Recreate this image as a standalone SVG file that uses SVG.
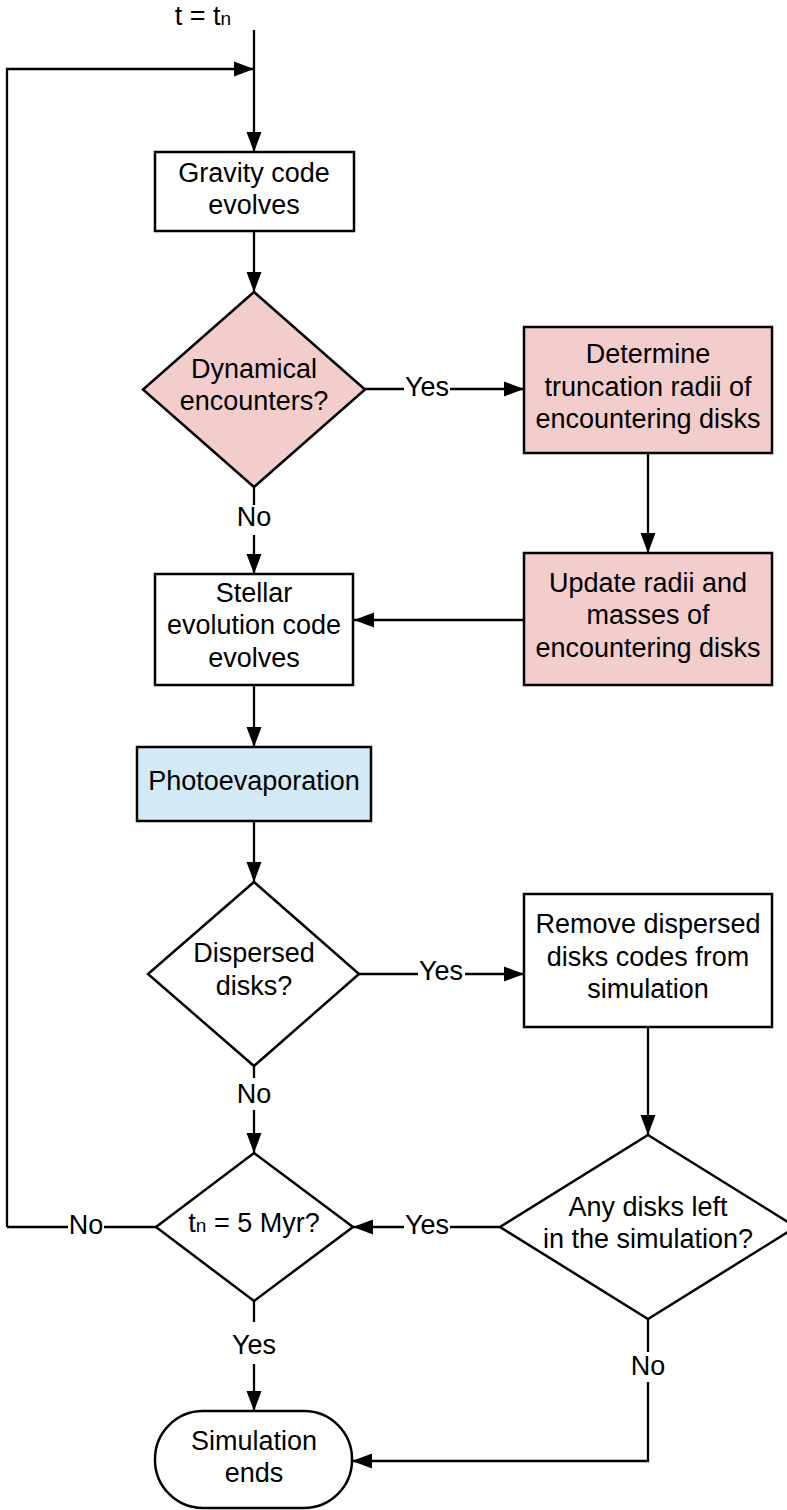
<svg xmlns="http://www.w3.org/2000/svg" width="787" height="1510" viewBox="0 0 787 1510">
<style>
text{font-family:"Liberation Sans",Arial,sans-serif;font-size:27px;fill:#000;text-anchor:middle}
.n{stroke:#000;stroke-width:2.5}
.w{fill:#fff}
.p{fill:#f2cdcc}
.b{fill:#d3e9f6}
.c{fill:none;stroke:#000;stroke-width:2.3}
.lb{fill:#fff;stroke:none}
</style>
<defs>
<marker id="a" markerWidth="22" markerHeight="16" refX="20" refY="8" orient="auto" markerUnits="userSpaceOnUse">
<path d="M0,0.5 L20,8 L0,15.5 z" fill="#000"/>
</marker>
</defs>
<rect width="787" height="1510" fill="#fff"/>
<g id="connectors">
<path class="c" d="M254,30 V152" marker-end="url(#a)"/>
<path class="c" d="M7,1227 V69 H254" marker-end="url(#a)"/>
<path class="c" d="M254,231 V292" marker-end="url(#a)"/>
<path class="c" d="M365,389 H524" marker-end="url(#a)"/>
<path class="c" d="M648,453 V553" marker-end="url(#a)"/>
<path class="c" d="M524,620 H354" marker-end="url(#a)"/>
<path class="c" d="M254,487 V574" marker-end="url(#a)"/>
<path class="c" d="M254,685 V747" marker-end="url(#a)"/>
<path class="c" d="M254,821 V882" marker-end="url(#a)"/>
<path class="c" d="M359,974 H524" marker-end="url(#a)"/>
<path class="c" d="M648,1027 V1135" marker-end="url(#a)"/>
<path class="c" d="M254,1066 V1153" marker-end="url(#a)"/>
<path class="c" d="M500,1227 H353" marker-end="url(#a)"/>
<path class="c" d="M156,1227 H7"/>
<path class="c" d="M254,1301 V1411" marker-end="url(#a)"/>
<path class="c" d="M648,1319 V1461 H352" marker-end="url(#a)"/>
<rect class="lb" x="404" y="376" width="46" height="26"/>
<text x="427" y="396">Yes</text>
<rect class="lb" x="418" y="961" width="47" height="26"/>
<text x="441" y="980">Yes</text>
<rect class="lb" x="404" y="1214" width="46" height="26"/>
<text x="427" y="1234">Yes</text>
<rect class="lb" x="68" y="1214" width="36" height="26"/>
<text x="86" y="1234">No</text>
<rect class="lb" x="236" y="505" width="36" height="30"/>
<text x="254" y="526">No</text>
<rect class="lb" x="236" y="1078" width="36" height="32"/>
<text x="254" y="1103">No</text>
<rect class="lb" x="630" y="1352" width="36" height="30"/>
<text x="648" y="1375">No</text>
<rect class="lb" x="228" y="1322" width="52" height="42"/>
<text x="254" y="1354">Yes</text>
</g>
<g id="start">
<text x="203" y="25">t = t<tspan font-size="19">n</tspan></text>
</g>
<g id="gravity">
<rect class="n w" x="155" y="152" width="199" height="79"/>
<text x="254" y="182">Gravity code</text>
<text x="254" y="214">evolves</text>
</g>
<g id="dynamical">
<polygon class="n p" points="254,292 365,389.5 254,487 143,389.5"/>
<text x="254" y="378">Dynamical</text>
<text x="254" y="410">encounters?</text>
</g>
<g id="determine">
<rect class="n p" x="524" y="327" width="248" height="126"/>
<text x="648" y="363">Determine</text>
<text x="648" y="396">truncation radii of</text>
<text x="648" y="428">encountering disks</text>
</g>
<g id="update">
<rect class="n p" x="524" y="553" width="248" height="132"/>
<text x="648" y="592">Update radii and</text>
<text x="648" y="624">masses of</text>
<text x="648" y="657">encountering disks</text>
</g>
<g id="stellar">
<rect class="n w" x="155" y="574" width="198" height="111"/>
<text x="254" y="602">Stellar</text>
<text x="254" y="634">evolution code</text>
<text x="254" y="667">evolves</text>
</g>
<g id="photo">
<rect class="n b" x="137" y="747" width="234" height="74"/>
<text x="254" y="790">Photoevaporation</text>
</g>
<g id="dispersed">
<polygon class="n w" points="254,882 359,974 254,1066 148,974"/>
<text x="254" y="962">Dispersed</text>
<text x="254" y="995">disks?</text>
</g>
<g id="remove">
<rect class="n w" x="524" y="894" width="248" height="133"/>
<text x="648" y="933">Remove dispersed</text>
<text x="648" y="966">disks codes from</text>
<text x="648" y="998">simulation</text>
</g>
<g id="anydisks">
<polygon class="n w" points="648,1135 796,1227 648,1319 500,1227"/>
<text x="648" y="1216">Any disks left</text>
<text x="648" y="1248">in the simulation?</text>
</g>
<g id="tn5">
<polygon class="n w" points="254,1153 353,1227 254,1301 156,1227"/>
<text x="254" y="1232">t<tspan font-size="19">n</tspan> = 5 Myr?</text>
</g>
<g id="ends">
<rect class="n w" x="155" y="1411" width="197" height="97" rx="48" ry="48"/>
<text x="254" y="1450">Simulation</text>
<text x="254" y="1482">ends</text>
</g>
</svg>
